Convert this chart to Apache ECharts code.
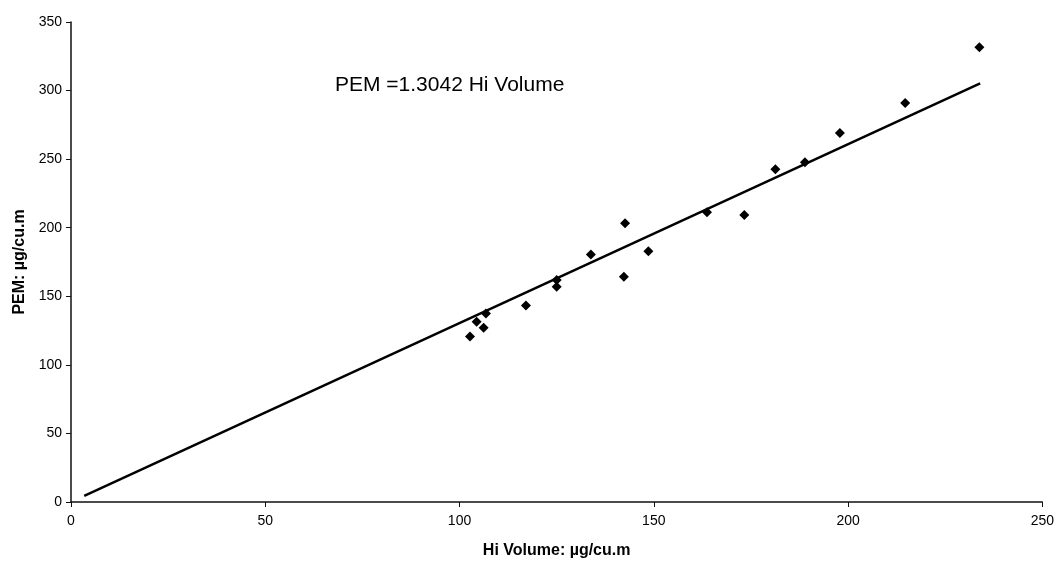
<!DOCTYPE html>
<html>
<head>
<meta charset="utf-8">
<title>PEM vs Hi Volume</title>
<script src="https://cdn.jsdelivr.net/npm/echarts@6/dist/echarts.min.js"></script>
<style>
  html, body { margin: 0; padding: 0; background: #fff; }
  #chart { width: 1057px; height: 569px; }
</style>
</head>
<body>
<div id="chart"></div>
<script>
const hiVolume = [102.7, 104.4, 106.2, 106.8, 117.1, 125.0, 125.0, 133.8, 142.3, 142.6, 148.6, 163.7, 173.3, 181.3, 188.9, 197.9, 214.7, 233.8];
const pem = [120.6, 131.4, 127.1, 137.4, 143.2, 161.8, 157.0, 180.5, 164.2, 203.3, 182.8, 211.3, 209.2, 242.6, 247.7, 269.0, 291.0, 331.6];

// fitted line ends (PEM = 1.3042 Hi Volume)
const fitX = [3.4, 234.0];
const fitY = [4.4, 305.2];

const xTicks = [0, 50, 100, 150, 200, 250];
const yTicks = [0, 50, 100, 150, 200, 250, 300, 350];

const chart = echarts.init(document.getElementById("chart"), null, { renderer: "canvas" });

const axisFont = { fontFamily: "Liberation Sans, Arial, sans-serif", fontSize: 14, color: "#000" };
const nameFont = { fontFamily: "Liberation Sans, Arial, sans-serif", fontSize: 16, fontWeight: "bold", color: "#000" };

const option = {
  backgroundColor: "#fff",
  animation: false,
  grid: { left: 71, right: 14, top: 22, bottom: 67 },
  xAxis: {
    type: "value",
    min: xTicks[0],
    max: xTicks[xTicks.length - 1],
    interval: 50,
    name: "Hi Volume: µg/cu.m",
    nameLocation: "middle",
    nameGap: 41,
    nameTextStyle: nameFont,
    axisLine: { lineStyle: { color: "#111", width: 1.5 } },
    axisTick: { show: true, inside: false, length: 5, lineStyle: { color: "#111" } },
    axisLabel: { ...axisFont, margin: 12 },
    splitLine: { show: false }
  },
  yAxis: {
    type: "value",
    min: yTicks[0],
    max: yTicks[yTicks.length - 1],
    interval: 50,
    name: "PEM: µg/cu.m",
    nameLocation: "middle",
    nameGap: 42,
    nameTextStyle: nameFont,
    axisLine: { show: true, lineStyle: { color: "#111", width: 1.5 } },
    axisTick: { show: true, inside: false, length: 5, lineStyle: { color: "#111" } },
    axisLabel: { ...axisFont, margin: 9 },
    splitLine: { show: false }
  },
  graphic: [
    {
      type: "text",
      left: 335,
      top: 75,
      style: {
        text: "PEM =1.3042 Hi Volume",
        font: "21px 'Liberation Sans', Arial, sans-serif",
        fill: "#000"
      }
    }
  ],
  series: [
    {
      name: "Fit",
      type: "line",
      data: fitX.map((x, i) => [x, fitY[i]]),
      showSymbol: false,
      lineStyle: { color: "#000", width: 2.5 },
      z: 2
    },
    {
      name: "PEM",
      type: "scatter",
      data: hiVolume.map((x, i) => [x, pem[i]]),
      symbol: "diamond",
      symbolSize: 10,
      itemStyle: { color: "#000", opacity: 1 },
      z: 3
    }
  ]
};

chart.setOption(option);
</script>
</body>
</html>
